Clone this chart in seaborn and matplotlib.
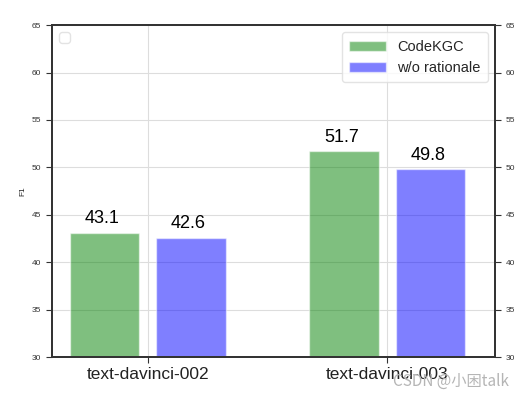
import numpy as np
import matplotlib
matplotlib.use("Agg")
import matplotlib.pyplot as plt
import seaborn as sns
import pandas as pd

models = ["text-davinci-002", "text-davinci-003"]
codekgc = [43.1, 51.7]
wo_rationale = [42.6, 49.8]
series_names = ["CodeKGC", "w/o rationale"]

sns.set_style("whitegrid")
plt.rcParams['font.family'] = ['Liberation Sans', 'Noto Sans CJK SC', 'DejaVu Sans']

df = pd.DataFrame({
    "model": models * 2,
    "series": [series_names[0]] * 2 + [series_names[1]] * 2,
    "F1": codekgc + wo_rationale,
})

fig = plt.figure(figsize=(5.29, 3.99), dpi=100)
ax = fig.add_axes([0.098, 0.105, 0.838, 0.832])

x = np.arange(len(models))
w = 0.29
off = 0.18
colors = ["green", "blue"]
for i, name in enumerate(series_names):
    sub = df[df["series"] == name]
    pos = x + (-off if i == 0 else off)
    ax.bar(pos, sub["F1"], width=w, color=colors[i], alpha=0.5, label=name, zorder=2)
    for px, v in zip(pos, sub["F1"]):
        ax.text(px - 0.01, v + 0.6, f"{v}", ha="center", va="bottom", fontsize=13, color="black")

ax.set_ylim(30, 65)
ax.set_xlim(-0.40, 1.45)
ax.set_xticks(x)
ax.set_xticklabels(models, fontsize=12.5, color="#222222")
ax.set_yticks(np.arange(30, 66, 5))
ax.tick_params(axis="y", labelsize=6, length=4, color="#333333", left=True, labelcolor="#333333")
ax.tick_params(axis="x", length=4, bottom=True, color="#333333", pad=3)
ax.set_ylabel("F1", fontsize=6)
ax.grid(True, color="#dddddd", linewidth=0.8, zorder=0)
for s in ax.spines.values():
    s.set_color("#333333")
    s.set_linewidth(1.3)

ax.legend(loc="upper right", fontsize=10.5, frameon=True, edgecolor="#dddddd",
          handlelength=2.5, borderpad=0.5)

ax2 = ax.twinx()
ax2.set_ylim(30, 65)
ax2.set_yticks(np.arange(30, 66, 5))
ax2.tick_params(axis="y", labelsize=6, length=4, right=True, color="#333333", labelcolor="#333333")
ax2.grid(False)
for s in ax2.spines.values():
    s.set_color("#333333")
    s.set_linewidth(1.3)
leg2 = ax2.legend(handles=[], labels=[], loc="upper left", frameon=True, edgecolor="#dddddd")

# watermark from the screenshot
fig.text(0.962, 0.022, "CSDN @小困talk", ha="right", va="bottom", fontsize=11,
         color="#b5b5b5", family=['Noto Sans CJK SC', 'DejaVu Sans'])

fig.savefig("out.png", dpi=100)
